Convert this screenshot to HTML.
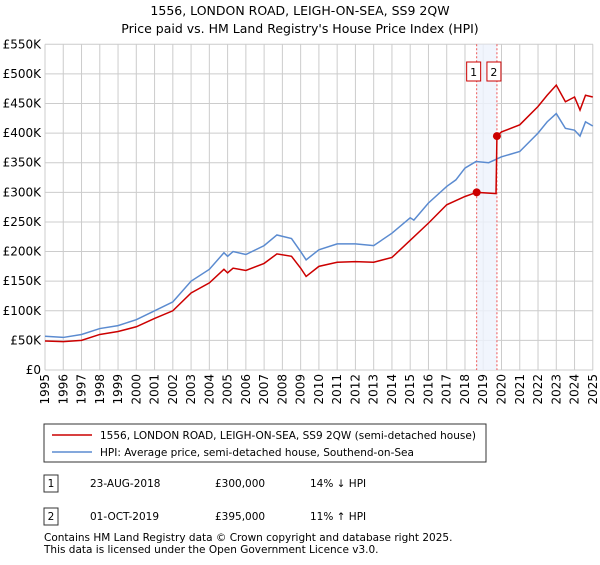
<!DOCTYPE html>
<html><head><meta charset="utf-8"><style>
body{margin:0;background:#fff;font-family:"Liberation Sans","DejaVu Sans",sans-serif;}
svg text{font-family:"DejaVu Sans","Liberation Sans",sans-serif;}
</style></head><body>
<svg id="chart" width="600" height="560" viewBox="0 0 600 560" xmlns="http://www.w3.org/2000/svg">
<text x="300" y="15" text-anchor="middle" font-size="12.5">1556, LONDON ROAD, LEIGH-ON-SEA, SS9 2QW</text>
<text x="300" y="33" text-anchor="middle" font-size="12.5">Price paid vs. HM Land Registry's House Price Index (HPI)</text>
<g id="grid"></g><g id="axes"></g><g id="marks"></g>
<g>
<rect x="44" y="424" width="442" height="38" fill="#fff" stroke="#333"/>
<line x1="52" y1="435" x2="92" y2="435" stroke="#cc0000" stroke-width="1.5"/>
<text x="100" y="439" font-size="10.5">1556, LONDON ROAD, LEIGH-ON-SEA, SS9 2QW (semi-detached house)</text>
<line x1="52" y1="452" x2="92" y2="452" stroke="#5b8bd0" stroke-width="1.5"/>
<text x="100" y="456" font-size="10.5">HPI: Average price, semi-detached house, Southend-on-Sea</text>
</g>
<g font-size="10.5">
<rect x="44" y="475" width="14" height="17" fill="#fff" stroke="#333"/><text x="51" y="487" text-anchor="middle">1</text>
<text x="90" y="487">23-AUG-2018</text><text x="215" y="487">£300,000</text><text x="310" y="487">14% ↓ HPI</text>
<rect x="44" y="508" width="14" height="17" fill="#fff" stroke="#333"/><text x="51" y="520" text-anchor="middle">2</text>
<text x="90" y="520">01-OCT-2019</text><text x="215" y="520">£395,000</text><text x="310" y="520">11% ↑ HPI</text>
</g>
<text x="44" y="541" font-size="10.5">Contains HM Land Registry data © Crown copyright and database right 2025.</text>
<text x="44" y="553" font-size="10.5">This data is licensed under the Open Government Licence v3.0.</text>
</svg>
<script>
const hpiYears=[1995,1996,1997,1998,1999,2000,2001,2002,2003,2004,2004.8,2005,2005.3,2006,2007,2007.7,2008.5,2009,2009.3,2010,2011,2012,2013,2014,2015,2015.2,2016,2017,2017.5,2018,2018.6,2019.3,2020,2021,2022,2022.5,2023,2023.5,2024,2024.3,2024.6,2025];
const hpiValues=[57,55,60,70,75,85,100,115,150,170,198,192,200,195,210,228,222,200,186,203,213,213,210,231,257,253,282,310,321,341,352,350,360,369,400,419,433,408,405,395,419,412];
const priceYears=[1995,1996,1997,1998,1999,2000,2001,2002,2003,2004,2004.8,2005,2005.3,2006,2007,2007.7,2008.5,2009,2009.3,2010,2011,2012,2013,2014,2015,2016,2017,2018,2018.64,2019.7,2019.75,2020,2021,2022,2022.5,2023,2023.5,2024,2024.3,2024.6,2025];
const priceValues=[49,48,50,60,65,73,87,100,130,147,170,164,172,168,180,196,192,172,158,175,182,183,182,190,219,248,279,293,300,298,395,402,414,445,464,481,453,461,439,464,461];
const saleYears=[2018.64,2019.75];
const saleValues=[300,395];
const saleLabels=["1","2"];
const yTicks=[0,50,100,150,200,250,300,350,400,450,500,550];
const yTickLabels=["£0","£50K","£100K","£150K","£200K","£250K","£300K","£350K","£400K","£450K","£500K","£550K"];
const xTicks=[1995,1996,1997,1998,1999,2000,2001,2002,2003,2004,2005,2006,2007,2008,2009,2010,2011,2012,2013,2014,2015,2016,2017,2018,2019,2020,2021,2022,2023,2024,2025];

const NS="http://www.w3.org/2000/svg";
const X=y=>45+(y-1995)*18.26;
const Y=v=>370-v*0.5922;
function mk(parent,tag,attrs){const e=document.createElementNS(NS,tag);for(const k in attrs)e.setAttribute(k,attrs[k]);document.getElementById(parent).appendChild(e);return e;}
yTicks.forEach((v,i)=>{
  const l=mk('grid','line',{x1:45,x2:593,y1:Y(v),y2:Y(v),stroke:'#cccccc'});
  
  
  const t=mk('axes','text',{x:41,y:Y(v)+4,'text-anchor':'end','font-size':'12'});
  t.textContent=yTickLabels[i];
  
  
});
xTicks.forEach(yr=>{
  const l=mk('grid','line',{x1:X(yr),x2:X(yr),y1:Y(550),y2:Y(0),stroke:'#cccccc'});
  
  
  const t=mk('axes','text',{transform:`translate(${X(yr)+4},374) rotate(-90)`,'text-anchor':'end','font-size':'12'});
  t.textContent=yr;
  
  
});
const band=mk('marks','rect',{x:X(saleYears[0]),y:Y(550),width:X(saleYears[1])-X(saleYears[0]),height:Y(0)-Y(550),fill:'#eef3fc',opacity:0.8});


saleYears.forEach((yr,i)=>{
  const l=mk('marks','line',{x1:X(yr),x2:X(yr),y1:Y(550),y2:Y(0),stroke:'#ee5555','stroke-dasharray':'2,2'});
  
  
  const bx=X(yr)-(i===0?10:10);
  const r=mk('marks','rect',{x:bx,y:62,width:14,height:19,fill:'#fff',stroke:'#cc0000'});
  
  
  const t=mk('marks','text',{x:bx+7,y:76,'text-anchor':'middle','font-size':'11'});
  t.textContent=saleLabels[i];
  
  
});
const hp=mk('marks','polyline',{points:hpiYears.map((y,i)=>X(y)+','+Y(hpiValues[i])).join(' '),fill:'none',stroke:'#5b8bd0','stroke-width':1.5});


const pp=mk('marks','polyline',{points:priceYears.map((y,i)=>X(y)+','+Y(priceValues[i])).join(' '),fill:'none',stroke:'#cc0000','stroke-width':1.5});


saleYears.forEach((yr,i)=>{
  const c=mk('marks','circle',{cx:X(yr),cy:Y(saleValues[i]),r:4,fill:'#cc0000'});
  
  
});
</script>
</body></html>
